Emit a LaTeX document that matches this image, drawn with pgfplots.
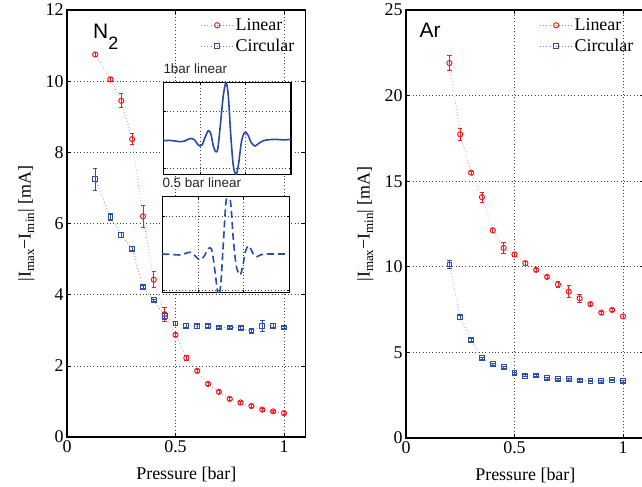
\documentclass[border=0pt]{standalone}
\usepackage{fontspec}
\setmainfont{Liberation Serif}
\newfontfamily\hv{Liberation Sans}
\usepackage{pgfplots}
\pgfplotsset{compat=1.18}
\definecolor{mred}{RGB}{235,35,40}
\definecolor{mblue}{RGB}{45,80,165}
\definecolor{iblue}{RGB}{40,75,165}
\newcommand{\bigfont}{\fontsize{18}{20}\selectfont}
\pgfplotsset{
  mainax/.style={
    scale only axis, width=238.7bp,
    xmin=0, xmax=1.1, xtick={0,0.5,1},
    xticklabels={0,0.5,1},
    tick align=inside, major tick length=4bp,
    tick style={black, line width=0.6bp},
    axis line style={line width=1.2bp},
    grid=major,
    major grid style={black!75, line width=0.6bp, dash pattern=on 0.7bp off 2.6bp},
    tick label style={font=\bigfont},
    /pgf/number format/assume math mode=true,
    label style={font=\bigfont},
    xlabel={Pressure [bar]},
    xlabel style={at={(axis description cs:0.5,-0.088)}, anchor=center},
    ylabel={|I\raisebox{-0.4ex}{\fontsize{13}{13}\selectfont max}−I\raisebox{-0.4ex}{\fontsize{13}{13}\selectfont min}| [mA]},
    ylabel style={at={(axis description cs:-0.17,0.5)}, anchor=center},
    legend style={draw=none, fill=none, font=\bigfont, anchor=north west, inner sep=0pt, row sep=3bp},
    legend cell align=left,
    legend image code/.code={\draw[mark repeat=2,mark phase=2,#1] plot coordinates {(0bp,0bp) (16bp,0bp) (32bp,0bp)};},
  },
  linser/.style={mred!65, dash pattern=on 0.7bp off 2.4bp, line width=0.7bp, mark=o, mark size=2.6bp, mark options={solid, mred, line width=1bp},
    error bars/.cd, y dir=both, y explicit, error bar style={solid, mred, line width=0.8bp}, error mark options={rotate=90, mred, mark size=2.2bp, line width=0.8bp}},
  cirser/.style={mblue!70, dash pattern=on 0.7bp off 2.4bp, line width=0.7bp, mark=square, mark size=2.4bp, mark options={solid, mblue, line width=1bp},
    error bars/.cd, y dir=both, y explicit, error bar style={solid, mblue, line width=0.8bp}, error mark options={rotate=90, mblue, mark size=2.2bp, line width=0.8bp}},
  inset/.style={
    scale only axis, xticklabels={}, yticklabels={},
    tick align=inside, major tick length=2.5bp,
    tick style={black, line width=0.5bp},
    axis line style={line width=1.2bp},
    grid=major,
    major grid style={black!75, line width=0.6bp, dash pattern=on 0.7bp off 2.6bp},
    axis background/.style={fill=white},
    title style={font=\hv\fontsize{13.5}{15}\selectfont, color=black!85, at={(axis description cs:0,1)}, anchor=south west, inner sep=0pt, yshift=3bp},
  },
}
\begin{document}
\begin{tikzpicture}
% ---------- N2 panel ----------
\begin{axis}[mainax, at={(67bp,50bp)}, anchor=south west, height=427bp,
  ymin=0, ymax=12, ytick={0,2,4,6,8,10,12},
  legend style={at={(axis description cs:0.56,0.985)}}]
\addplot[linser] coordinates {
(0.13,10.75) +- (0,0.05)
(0.20,10.05) +- (0,0.05)
(0.25,9.45) +- (0,0.2)
(0.30,8.37) +- (0,0.15)
(0.35,6.20) +- (0,0.3)
(0.40,4.42) +- (0,0.22)
(0.45,3.45) +- (0,0.2)
(0.50,2.87) +- (0,0.05)
(0.55,2.22) +- (0,0.06)
(0.60,1.86) +- (0,0.05)
(0.65,1.49) +- (0,0.05)
(0.70,1.27) +- (0,0.05)
(0.75,1.07) +- (0,0.04)
(0.80,0.97) +- (0,0.04)
(0.85,0.87) +- (0,0.04)
(0.90,0.77) +- (0,0.04)
(0.95,0.72) +- (0,0.04)
(1.00,0.67) +- (0,0.04)
};
\addlegendentry{Linear}
\addplot[cirser] coordinates {
(0.13,7.24) +- (0,0.3)
(0.20,6.18) +- (0,0.1)
(0.25,5.68) +- (0,0.08)
(0.30,5.29) +- (0,0.06)
(0.35,4.22) +- (0,0.05)
(0.40,3.84) +- (0,0.04)
(0.45,3.40) +- (0,0.1)
(0.50,3.19) +- (0,0.05)
(0.55,3.13) +- (0,0.05)
(0.60,3.11) +- (0,0.05)
(0.65,3.13) +- (0,0.04)
(0.70,3.08) +- (0,0.04)
(0.75,3.08) +- (0,0.04)
(0.80,3.07) +- (0,0.04)
(0.85,2.97) +- (0,0.04)
(0.90,3.13) +- (0,0.15)
(0.95,3.13) +- (0,0.05)
(1.00,3.08) +- (0,0.04)
};
\addlegendentry{Circular}
\node[anchor=base west, inner sep=0pt, font=\hv\fontsize{21}{21}\selectfont] at (axis cs:0.12,11.2) {N\raisebox{-11.5bp}{\fontsize{18}{18}\selectfont 2}};
\end{axis}
% ---------- inset 1 ----------
\begin{axis}[inset, at={(163.3bp,312.7bp)}, anchor=south west, width=127.7bp, height=91.6bp,
  xmin=0, xmax=127.7, ymin=-33.6, ymax=58,
  xtick={37.4,82.4}, ytick={-27.6,29},
  title={1bar linear}]
\addplot[iblue, line width=1.6bp, smooth, tension=0.5] coordinates {
(0,0) (6,0.3) (12,-0.3) (17,-1) (21,-0.5) (25,1.5) (28.3,2.3) (31,1) (34,-3) (36.7,-5.3)
(39,-4) (42,4) (45,10) (47.5,7) (50,-5) (52.3,-11) (54.5,-8) (57,15) (60,45) (62.7,58)
(65,45) (67.5,5) (70,-25) (72.7,-33.6) (75,-25) (78,-2) (80.5,7) (82.7,8.3) (85,5) (88,-2)
(91.7,-5.3) (95,-3) (100,0) (106,1) (113,1.3) (120,0.8) (127.7,1.3)
};
\end{axis}
% ---------- inset 2 ----------
\begin{axis}[inset, at={(162.3bp,194.7bp)}, anchor=south west, width=127bp, height=95.6bp,
  xmin=0, xmax=127, ymin=-38.3, ymax=57.3,
  xtick={36,81}, ytick={-36.7,37.3},
  title={0.5 bar linear}]
\addplot[iblue, line width=1.6bp, smooth, tension=0.5, dash pattern=on 7bp off 4bp] coordinates {
(0,0) (10,-0.5) (17.7,-1) (23,0.5) (27.7,1.7) (32,-1) (37.7,-6) (42,-2) (45,4) (47.7,6.3)
(50,2) (53,-20) (56,-42) (58.5,-30) (61,10) (63.5,50) (66,62) (68.5,50) (71,15) (74,-12)
(77.7,-21) (80.5,-12) (83,2) (86,8.3) (89,4) (91.5,-1) (94.4,-2.7) (98,-1) (103,0) (110,0) (127,0)
};
\end{axis}
% ---------- Ar panel ----------
\begin{axis}[mainax, at={(406bp,49bp)}, anchor=south west, height=428bp,
  ymin=0, ymax=25, ytick={0,5,10,15,20,25},
  legend style={at={(axis description cs:0.56,0.985)}}]
\addplot[linser] coordinates {
(0.20,21.90) +- (0,0.45)
(0.25,17.74) +- (0,0.35)
(0.30,15.50) +- (0,0.1)
(0.35,14.07) +- (0,0.3)
(0.40,12.13) +- (0,0.1)
(0.45,11.10) +- (0,0.3)
(0.50,10.72) +- (0,0.1)
(0.55,10.21) +- (0,0.1)
(0.60,9.82) +- (0,0.1)
(0.65,9.41) +- (0,0.1)
(0.70,8.97) +- (0,0.15)
(0.75,8.55) +- (0,0.35)
(0.80,8.16) +- (0,0.25)
(0.85,7.82) +- (0,0.1)
(0.90,7.32) +- (0,0.1)
(0.95,7.48) +- (0,0.1)
(1.00,7.10) +- (0,0.1)
};
\addlegendentry{Linear}
\addplot[cirser] coordinates {
(0.20,10.14) +- (0,0.25)
(0.25,7.05) +- (0,0.12)
(0.30,5.72) +- (0,0.08)
(0.35,4.66) +- (0,0.06)
(0.40,4.31) +- (0,0.06)
(0.45,4.13) +- (0,0.06)
(0.50,3.80) +- (0,0.06)
(0.55,3.63) +- (0,0.06)
(0.60,3.65) +- (0,0.05)
(0.65,3.49) +- (0,0.05)
(0.70,3.43) +- (0,0.05)
(0.75,3.43) +- (0,0.05)
(0.80,3.36) +- (0,0.05)
(0.85,3.34) +- (0,0.05)
(0.90,3.32) +- (0,0.05)
(0.95,3.40) +- (0,0.05)
(1.00,3.32) +- (0,0.05)
};
\addlegendentry{Circular}
\node[anchor=base west, inner sep=0pt, font=\hv\fontsize{21}{21}\selectfont] at (axis cs:0.062,23.4) {Ar};
\end{axis}
\pgfresetboundingbox
\path[use as bounding box] (0,0) rectangle (642bp,487bp);
\end{tikzpicture}
\end{document}
